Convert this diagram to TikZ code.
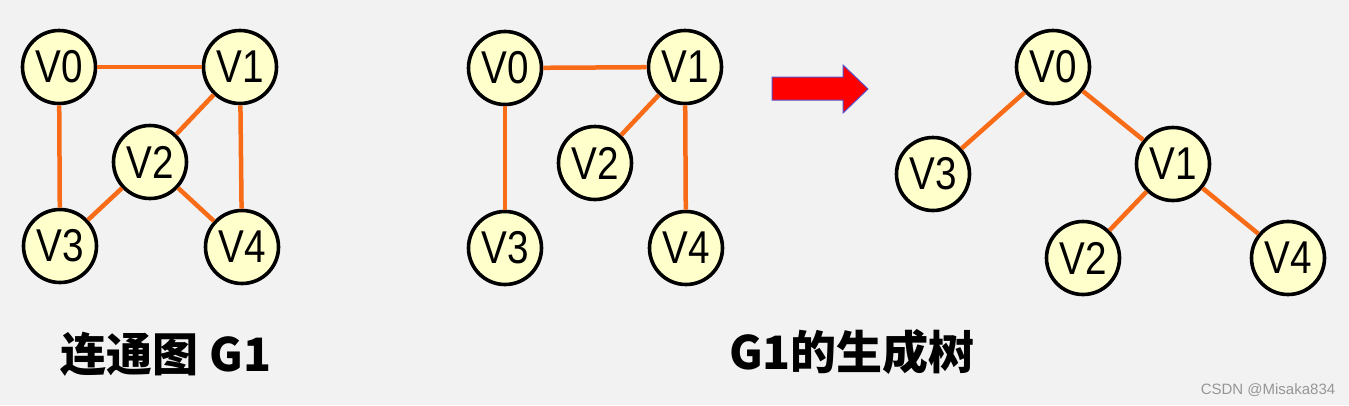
\documentclass[tikz,border=0pt]{standalone}
\usepackage{fontspec}
\setmainfont{Liberation Sans}
\newfontfamily\cjk{Noto Sans CJK SC}
\newfontfamily\vfont[FakeStretch=0.84]{Liberation Sans}
\definecolor{bgc}{RGB}{242,242,242}
\definecolor{nodefill}{RGB}{255,255,204}
\definecolor{edgec}{RGB}{248,108,24}
\definecolor{arrfill}{RGB}{255,0,0}
\definecolor{arrline}{RGB}{90,80,200}
\definecolor{wm}{RGB}{150,150,150}
\begin{document}
\begin{tikzpicture}[x=1pt,y=-1pt,
  vtx/.style={circle,draw=black,line width=3.6pt,fill=nodefill,minimum size=73pt,inner sep=0pt,
    font=\vfont\fontsize{46}{46}\selectfont},
  edge/.style={draw=edgec,line width=4.5pt},
  caption/.style={font=\cjk\bfseries\fontsize{46}{50}\selectfont,inner sep=0pt},
  arrowshape/.style={fill=arrfill,draw=arrline,line width=1pt,line join=miter}]
\fill[bgc] (0,0) rectangle (1349,405);
\useasboundingbox (0,0) rectangle (1349,405);
% graph 1
\node[vtx] (a0) at (59,67) {V0};
\node[vtx] (a1) at (240,67) {V1};
\node[vtx] (a2) at (150,162) {V2};
\node[vtx] (a3) at (60,246) {V3};
\node[vtx] (a4) at (242,247) {V4};
\draw[edge] (a0) -- (a1);
\draw[edge] (a0) -- (a3);
\draw[edge] (a1) -- (a4);
\draw[edge] (a1) -- (a2);
\draw[edge] (a2) -- (a3);
\draw[edge] (a2) -- (a4);
% graph 2
\node[vtx] (b0) at (505,68) {V0};
\node[vtx] (b1) at (685,67) {V1};
\node[vtx] (b2) at (595,163) {V2};
\node[vtx] (b3) at (505,248) {V3};
\node[vtx] (b4) at (686,248) {V4};
\draw[edge] (b0) -- (b1);
\draw[edge] (b0) -- (b3);
\draw[edge] (b1) -- (b4);
\draw[edge] (b1) -- (b2);
% arrow
\draw[arrowshape] (772,77) -- (843,77) -- (843,65) -- (868,89) -- (843,113) -- (843,100) -- (772,100) -- cycle;
% tree
\node[vtx] (c0) at (1053,67) {V0};
\node[vtx] (c3) at (933,174) {V3};
\node[vtx] (c1) at (1173,164) {V1};
\node[vtx] (c2) at (1083,258) {V2};
\node[vtx] (c4) at (1288,258) {V4};
\draw[edge] (c0) -- (c3);
\draw[edge] (c0) -- (c1);
\draw[edge] (c1) -- (c2);
\draw[edge] (c1) -- (c4);
% captions
\node[caption] (t1) at (166,354) {连通图 G1};
\node[caption] (t2) at (852,352) {G1的生成树};
\node[font=\fontsize{15}{15}\selectfont,text=wm,inner sep=0pt] (w) at (1268,390) {CSDN @Misaka834};
\end{tikzpicture}
\end{document}
